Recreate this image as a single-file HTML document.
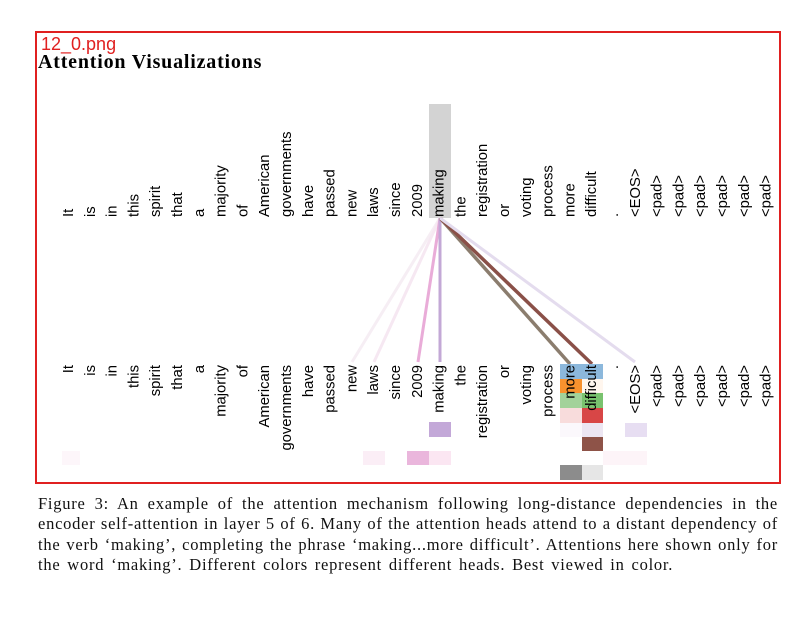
<!DOCTYPE html>
<html><head><style>
body{margin:0;background:#fff;width:800px;height:628px;position:relative;overflow:hidden}
.box{position:absolute;left:35px;top:31px;width:742px;height:449px;border:2px solid #e02020}
.fn{position:absolute;left:41px;top:34px;font:18px "Liberation Sans",sans-serif;color:#e02020}
.tt{position:absolute;left:38px;top:51px;font:bold 20px "Liberation Serif",serif;letter-spacing:0.8px;color:#000}
.cap{position:absolute;left:38px;top:494px;width:740px;font:16.5px/20.3px "Liberation Serif",serif;letter-spacing:0.75px;color:#111}
.cap div{text-align:justify;text-align-last:justify;white-space:nowrap}
.cap div.l{text-align-last:left;word-spacing:2px}
</style></head><body>
<div class="box"></div>
<div class="fn">12_0.png</div>
<div class="tt">Attention Visualizations</div>
<svg width="800" height="628" style="position:absolute;left:0;top:0">
<rect x="429" y="104" width="22" height="114" fill="#d3d3d3"/>
<g stroke-width="3" fill="none">
<line x1="440" y1="218" x2="352" y2="362" stroke="#f6eef4"/>
<line x1="440" y1="218" x2="374" y2="362" stroke="#f6e8f2"/>
<line x1="440" y1="218" x2="418" y2="362" stroke="#e9acd8"/>
<line x1="440" y1="218" x2="440" y2="362" stroke="#c3a8d6"/>
<line x1="440" y1="218" x2="570" y2="364" stroke="#8b7d6e" stroke-width="3.5"/>
<line x1="440" y1="218" x2="592" y2="364" stroke="#8a5048" stroke-width="3.5"/>
<line x1="440" y1="218" x2="635" y2="362" stroke="#e4dcee"/>
</g>
<g>
<rect x="560" y="364" width="22" height="15" fill="#8cb8dc"/>
<rect x="582" y="364" width="21" height="15" fill="#8cb8dc"/>
<rect x="560" y="379" width="22" height="14" fill="#f8922e"/>
<rect x="582" y="379" width="21" height="14" fill="#fff6ee"/>
<rect x="560" y="393" width="22" height="15" fill="#a2d29a"/>
<rect x="582" y="393" width="21" height="15" fill="#79c26e"/>
<rect x="560" y="408" width="22" height="15" fill="#f8dcdc"/>
<rect x="582" y="408" width="21" height="15" fill="#d84646"/>
<rect x="429" y="422" width="22" height="15" fill="#c3a8d8"/>
<rect x="560" y="423" width="22" height="14" fill="#fbf8fc"/>
<rect x="582" y="423" width="21" height="14" fill="#ece6f2"/>
<rect x="625" y="423" width="22" height="14" fill="#e7def2"/>
<rect x="582" y="437" width="21" height="14" fill="#8e5348"/>
<rect x="363" y="451" width="22" height="14" fill="#fbeef6"/>
<rect x="407" y="451" width="22" height="14" fill="#eab6dc"/>
<rect x="429" y="451" width="22" height="14" fill="#fbe6f2"/>
<rect x="603" y="451" width="44" height="14" fill="#fdf4f8"/>
<rect x="62" y="451" width="18" height="14" fill="#fdf6fa"/>
<rect x="560" y="465" width="22" height="15" fill="#8c8c8c"/>
<rect x="582" y="465" width="21" height="15" fill="#e6e6e6"/>
</g>
</svg>
<div class="cap">
<div>Figure 3: An example of the attention mechanism following long-distance dependencies in the</div>
<div>encoder self-attention in layer 5 of 6. Many of the attention heads attend to a distant dependency of</div>
<div>the verb ‘making’, completing the phrase ‘making...more difficult’. Attentions here shown only for</div>
<div class="l">the word ‘making’. Different colors represent different heads. Best viewed in color.</div>
</div>
<svg width="800" height="628" style="position:absolute;left:0;top:0" font-family="Liberation Sans,sans-serif" font-size="14.8" fill="#000">
<g id="top"></g><g id="bot"></g>
</svg>
<script>
var words=["It","is","in","this","spirit","that","a","majority","of","American","governments","have","passed","new","laws","since","2009","making","the","registration","or","voting","process","more","difficult",".","<EOS>","<pad>","<pad>","<pad>","<pad>","<pad>","<pad>"];
var ns="http://www.w3.org/2000/svg",t=document.getElementById("top"),b=document.getElementById("bot");
words.forEach(function(w,i){var x=68+i*21.8+5;
var a=document.createElementNS(ns,"text");a.setAttribute("transform","translate("+x+",217) rotate(-90)");a.textContent=w;t.appendChild(a);
var c=document.createElementNS(ns,"text");c.setAttribute("transform","translate("+x+",365) rotate(-90)");c.setAttribute("text-anchor","end");c.textContent=w;b.appendChild(c);});
</script>
</body></html>
